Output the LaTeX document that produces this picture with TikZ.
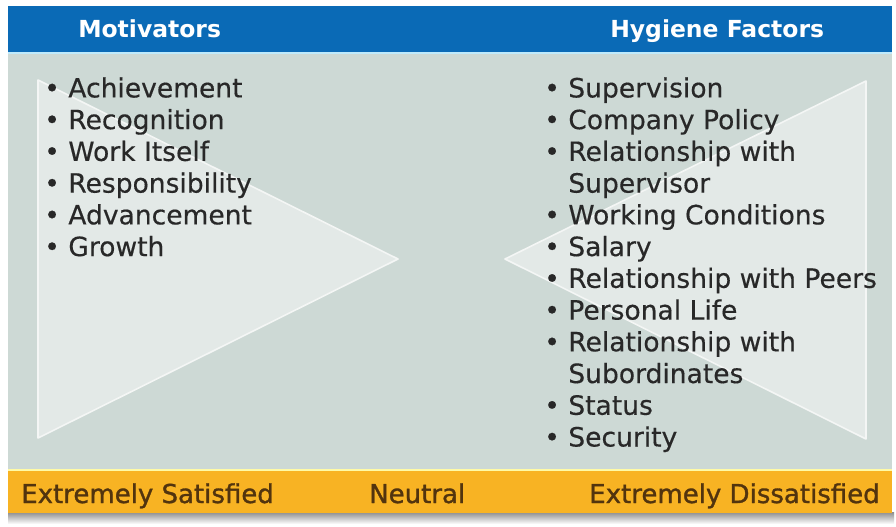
\documentclass[tikz,border=0pt]{standalone}
\usepackage{fontspec}
\setmainfont{DejaVu Sans}
\newfontfamily\scalefont{DejaVu Sans}[FakeBold=1.2]
\newfontfamily\itemfont{DejaVu Sans}[FakeBold=0.4]
\usetikzlibrary{positioning}

\definecolor{barblue}{RGB}{10,106,182}
\definecolor{panelgrey}{RGB}{205,217,213}
\definecolor{wedgegrey}{RGB}{227,233,231}
\definecolor{barorange}{RGB}{248,179,35}
\definecolor{scalebrown}{RGB}{82,52,14}
\definecolor{itemgrey}{RGB}{40,40,40}

\begin{document}
\begin{tikzpicture}[
        x=0.75pt, y=-0.75pt,
        every node/.style={inner sep=0pt},
        header/.style={text=white, anchor=base west, font=\fontsize{17.6}{20}\selectfont\bfseries},
        factors/.style={text=itemgrey, align=left, anchor=north west, font=\itemfont\fontsize{19.9}{23.8}\selectfont},
        endlabel/.style={text=scalebrown, font=\scalefont\fontsize{19.5}{22}\selectfont},
        wedge/.style={fill=wedgegrey, draw=white!60!wedgegrey, line width=1.2pt, line join=round}
    ]

    % Frame
    \useasboundingbox[fill=white] (0,0) rectangle (896,526);
    \shade[top color=black!45, bottom color=white] (8,512) rectangle (894,524);
    \fill[panelgrey] (8,52) rectangle (892,470);
    \fill[barblue] (8,6) rectangle (892,52);
    \fill[cyan!25] (8,51.5) rectangle (892,54);
    \fill[barorange] (8,470) rectangle (892,513);
    \fill[yellow!35!white] (8,468.5) rectangle (892,471);

    % Wedges
    \draw[wedge] (38,80) -- (398,259) -- (38,438) -- cycle;
    \draw[wedge] (866,81) -- (505,259) -- (866,439) -- cycle;

    % Nodes
    \node[header] (motivators) at (78,37) {Motivators};
    \node[header] (hygiene) at (610,37) {Hygiene Factors};

    \node[factors] (motlist) at (44,77) {• Achievement\\
        • Recognition\\
        • Work Itself\\
        • Responsibility\\
        • Advancement\\
        • Growth};

    \node[factors] (hyglist) at (544,77) {• Supervision\\
        • Company Policy\\
        • Relationship with\\
        \phantom{•} Supervisor\\
        • Working Conditions\\
        • Salary\\
        • Relationship with Peers\\
        • Personal Life\\
        • Relationship with\\
        \phantom{•} Subordinates\\
        • Status\\
        • Security};

    \node[endlabel, anchor=base west] (satisfied) at (21,503) {Extremely Satisfied};
    \node[endlabel, anchor=base west] (neutral) at (369,503) {Neutral};
    \node[endlabel, anchor=base east] (dissatisfied) at (880,503) {Extremely Dissatisfied};

\end{tikzpicture}
\end{document}
